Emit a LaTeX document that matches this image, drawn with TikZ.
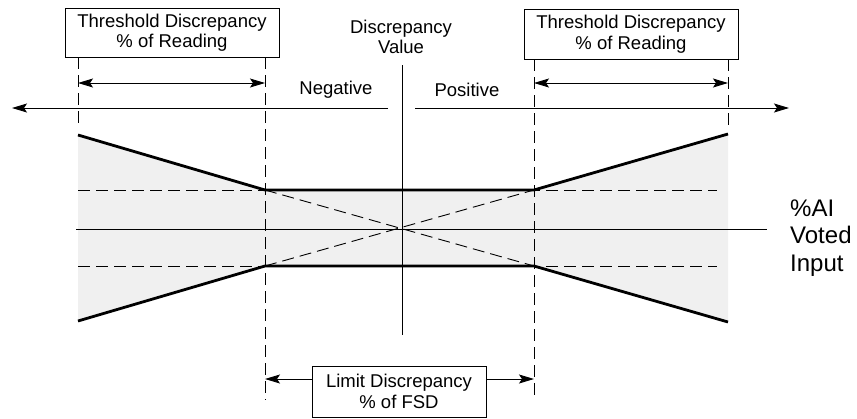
\documentclass[tikz,border=0pt]{standalone}
\usepackage{fontspec}
\setmainfont{Liberation Sans}
\usetikzlibrary{arrows.meta}

\begin{document}
\begin{tikzpicture}[x=1pt,y=-1pt]
    \tikzset{
        labelbox/.style={draw, line width=0.8pt, inner sep=0pt, align=center,
            minimum width=214pt, minimum height=49pt, font=\fontsize{18.5}{20.5}\selectfont},
        plaintext/.style={inner sep=0pt, align=center, font=\fontsize{18.5}{20.5}\selectfont},
        thinline/.style={line width=0.9pt},
        thickline/.style={line width=2.8pt},
        dashline/.style={line width=0.9pt, dash pattern=on 12pt off 6pt},
        tip/.style={line width=0.9pt, -{Stealth[length=15pt,width=9pt,inset=3pt]}},
        bothtips/.style={line width=0.9pt,
            {Stealth[length=15pt,width=9pt,inset=3pt]}-{Stealth[length=15pt,width=9pt,inset=3pt]}},
        bandfill/.style={fill=black!6}
    }
    \useasboundingbox (0,0) rectangle (857,418);

    % --- band corners ---
    \coordinate (LT) at (78,135);
    \coordinate (LB) at (78,321);
    \coordinate (CLT) at (265,190);
    \coordinate (CLB) at (265,266);
    \coordinate (CRT) at (534,190);
    \coordinate (CRB) at (534,266);
    \coordinate (RT) at (728,134);
    \coordinate (RB) at (728,322);

    % shaded band
    \fill[bandfill] (LT) -- (CLT) -- (CRT) -- (RT) -- (RB) -- (CRB) -- (CLB) -- (LB) -- cycle;

    % --- labels ---
    \node[labelbox] (thrL) at (172,32.5) {Threshold Discrepancy\\\% of Reading};
    \node[labelbox, minimum height=50pt] (thrR) at (631,34) {Threshold Discrepancy\\\% of Reading};
    \node[labelbox, minimum width=174pt, minimum height=51pt] (lim) at (399,391.5) {Limit Discrepancy\\\% of FSD};
    \node[plaintext] (dval) at (401,37) {Discrepancy\\Value};
    \node[plaintext] (neg) at (336,90) {Negative};
    \node[plaintext] (pos) at (467,90) {Positive};
    \node[inner sep=0pt, anchor=west, align=left, font=\fontsize{24}{27.5}\selectfont] (ai) at (790,238) {\%AI\\Voted\\Input};

    % --- dashed guides ---
    \draw[dashline] (thrL.south -| LT) -- (78,128);
    \draw[dashline] (thrL.south -| CLT) -- (265,400);
    \draw[dashline] (thrR.south -| CRT) -- (534,398);
    \draw[dashline] (thrR.south -| RT) -- (728,126);
    \draw[dashline] (LT |- CLT) -- (717,190);
    \draw[dashline] (LB |- CLB) -- (717,266);
    \draw[dashline] (CLT) -- (CRB);
    \draw[dashline] (CLB) -- (CRT);

    % --- axes ---
    \coordinate (axL) at (12,108);
    \coordinate (axR) at (789,108);
    \draw[tip] (388,108) -- (axL);
    \draw[tip] (415,108) -- (axR);
    \draw[thinline] (402,65) -- (402,335);
    \draw[thinline] (76,229) -- (767,229);

    % --- spans ---
    \draw[bothtips] (78,83) -- (265,83);
    \draw[bothtips] (534,83) -- (728,83);
    \coordinate (limL) at (265,379);
    \coordinate (limR) at (534,379);
    \draw[tip] (lim.west |- limL) -- (limL);
    \draw[tip] (lim.east |- limR) -- (limR);

    % --- band edges ---
    \draw[thickline] (LT) -- (CLT) -- (CRT) -- (RT);
    \draw[thickline] (LB) -- (CLB) -- (CRB) -- (RB);
\end{tikzpicture}
\end{document}
